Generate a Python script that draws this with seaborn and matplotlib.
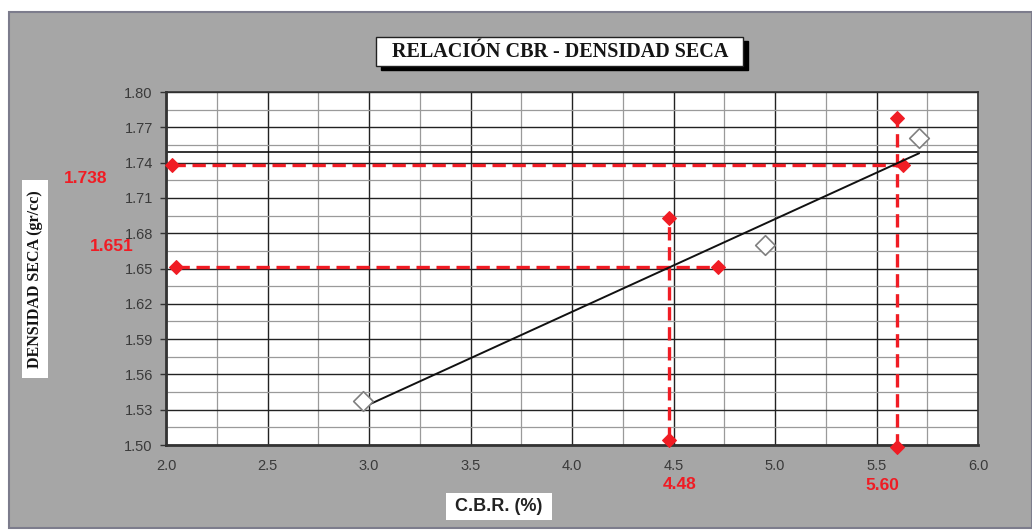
import numpy as np
import pandas as pd
import seaborn as sns
import matplotlib
matplotlib.use("Agg")
import matplotlib.pyplot as plt
from matplotlib.patches import Rectangle
from matplotlib.ticker import MultipleLocator, FormatStrFormatter

# ---------------- data ----------------
cbr = [2.97, 4.95, 5.71]              # C.B.R. (%)
densidad = [1.537, 1.670, 1.761]      # dry density (gr/cc)

max_density = 1.749                   # horizontal reference line

h95_x = [2.03, 5.63]                  # red horizontal at 1.738
h95_y = [1.738, 1.738]
v95_x = [5.60, 5.60]                  # red vertical at 5.60
v95_y = [1.498, 1.778]
h_low_x = [2.05, 4.72]                # red horizontal at 1.651
h_low_y = [1.651, 1.651]
v_low_x = [4.48, 4.48]                # red vertical at 4.48
v_low_y = [1.504, 1.693]

title = "RELACIÓN CBR - DENSIDAD SECA"
xlabel = "C.B.R. (%)"
ylabel = "DENSIDAD SECA (gr/cc)"

# ---------------- figure ----------------
sns.set_theme(style="white")
plt.rcParams['font.family'] = ['Liberation Sans', 'DejaVu Sans']

W, H = 1032, 531
fig = plt.figure(figsize=(W / 100, H / 100), dpi=100)
fig.patch.set_facecolor("white")

def fx(px):
    return px / W

def fy(py):
    return 1 - py / H

# gray chart area with darker border
fig.patches.append(Rectangle((fx(9), fy(528)), fx(1032 - 9), fy(12) - fy(528),
                             transform=fig.transFigure, facecolor="#a6a6a6",
                             edgecolor="#7c7c8c", linewidth=1.5, zorder=-5))

ax = fig.add_axes([fx(166), fy(445), fx(978) - fx(166), fy(92) - fy(445)])
ax.set_zorder(5)
ax.set_facecolor("white")
ax.set_xlim(2.0, 6.0)
ax.set_ylim(1.50, 1.80)

# grid
ax.xaxis.set_major_locator(MultipleLocator(0.5))
ax.xaxis.set_minor_locator(MultipleLocator(0.25))
ax.yaxis.set_major_locator(MultipleLocator(0.03))
ax.yaxis.set_minor_locator(MultipleLocator(0.015))
ax.xaxis.set_major_formatter(FormatStrFormatter("%.1f"))
ax.yaxis.set_major_formatter(FormatStrFormatter("%.2f"))
ax.grid(which="major", color="#222222", linewidth=1.0, zorder=0)
ax.grid(which="minor", color="#9a9a9a", linewidth=0.9, zorder=0)
ax.set_axisbelow(True)

for s in ax.spines.values():
    s.set_color("#333333")
    s.set_linewidth(1.2)
ax.spines["left"].set_linewidth(2.0)
ax.spines["bottom"].set_linewidth(2.0)

ax.tick_params(axis="y", which="major", left=True, length=4.5, width=1, color="#333333",
               labelsize=10.5, labelcolor="#3a3a3a", pad=5)
ax.tick_params(axis="x", which="major", bottom=False, labelsize=10.5, labelcolor="#3a3a3a",
               pad=4)
ax.tick_params(which="minor", left=False, bottom=False)

# max density reference line
ax.axhline(max_density, color="#111111", linewidth=1.2, zorder=1)

# red dashed construction lines
red = "#f01c24"
for xs, ys in [(h95_x, h95_y), (v95_x, v95_y), (h_low_x, h_low_y), (v_low_x, v_low_y)]:
    sns.lineplot(x=xs, y=ys, ax=ax, color=red, linewidth=2.4, linestyle=(0, (4, 2.0)),
                 marker="D", markersize=7, markeredgecolor=red, markerfacecolor=red,
                 zorder=3, sort=False, estimator=None, clip_on=False)

# regression line through the data
df = pd.DataFrame({"cbr": cbr, "dens": densidad})
sns.regplot(data=df, x="cbr", y="dens", ax=ax, scatter=False, ci=None,
            line_kws=dict(color="#111111", linewidth=1.4, zorder=4))

# data points (open diamonds)
sns.scatterplot(data=df, x="cbr", y="dens", ax=ax, marker="D", s=100,
                facecolor="white", edgecolor="#808080", linewidth=1.2, zorder=5)

ax.set_xlabel("")
ax.set_ylabel("")

# red value labels
lab_kw = dict(color=red, fontsize=12.5, fontweight="bold", ha="center", va="center",
              clip_on=False)
ax.text(1.603, 1.7261, f"{h95_y[0]:.3f}", **lab_kw)
ax.text(1.731, 1.6685, f"{h_low_y[0]:.3f}", **lab_kw)
ax.text(4.532, 1.4665, f"{v_low_x[0]:.2f}", **lab_kw)
ax.text(5.529, 1.466, f"{v95_x[0]:.2f}", **lab_kw)

# title box with black shadow
fig.patches.append(Rectangle((fx(381), fy(70)), fx(748) - fx(381), fy(41) - fy(70),
                             transform=fig.transFigure, facecolor="black",
                             edgecolor="black", zorder=1))
fig.patches.append(Rectangle((fx(376), fy(66)), fx(743) - fx(376), fy(37) - fy(66),
                             transform=fig.transFigure, facecolor="white",
                             edgecolor="#222222", linewidth=1, zorder=2))
fig.text(fx(560), fy(52), title, ha="center", va="center", fontsize=14.5,
         fontweight="bold", family=["Liberation Serif", "DejaVu Serif"], color="#151515",
         zorder=3)

# y label box
fig.patches.append(Rectangle((fx(22), fy(378)), fx(48) - fx(22), fy(180) - fy(378),
                             transform=fig.transFigure, facecolor="white",
                             edgecolor="none", zorder=1))
fig.text(fx(35.5), fy(279), ylabel, ha="center", va="center", rotation=90,
         fontsize=11.5, fontweight="bold", family=["Liberation Serif", "DejaVu Serif"],
         color="#151515", zorder=3)

# x label box
fig.patches.append(Rectangle((fx(446), fy(520)), fx(552) - fx(446), fy(493) - fy(520),
                             transform=fig.transFigure, facecolor="white",
                             edgecolor="none", zorder=1))
fig.text(fx(499), fy(506.5), xlabel, ha="center", va="center", fontsize=13,
         fontweight="bold", color="#222222", zorder=3)

fig.savefig("out.png", dpi=100, facecolor=fig.get_facecolor())
